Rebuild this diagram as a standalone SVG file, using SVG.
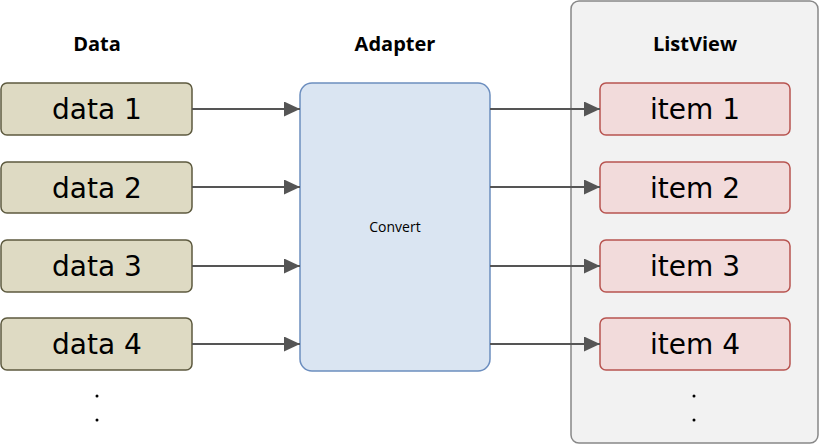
<svg xmlns="http://www.w3.org/2000/svg" width="820" height="445" viewBox="0 0 820 445">
<defs>
<marker id="ah" viewBox="0 0 10 10" refX="10" refY="5" markerWidth="16" markerHeight="15" markerUnits="userSpaceOnUse" orient="auto" preserveAspectRatio="none">
<path d="M0,0 L10,5 L0,10 Z" fill="#555555"/>
</marker>
<style>
.data{fill:#dedac3;stroke:#5d5a3f;stroke-width:1.5}
.item{fill:#f2dbdb;stroke:#b85450;stroke-width:1.5}
.lbl{font-family:"DejaVu Sans","Liberation Sans",sans-serif;font-size:28px;fill:#000;text-anchor:middle}
.title{font-family:"Open Sans","Liberation Sans",sans-serif;font-size:20px;font-weight:bold;fill:#000;text-anchor:middle}
.conn line{stroke:#555555;stroke-width:2.2;marker-end:url(#ah)}
.dot{fill:#000}
</style>
</defs>
<rect width="820" height="445" fill="#ffffff"/>
<g id="listview">
<rect x="571" y="1" width="247" height="442" rx="8" fill="#f2f2f2" stroke="#888888" stroke-width="1.5"/>
<text class="title" x="695" y="51">ListView</text>
<circle class="dot" cx="694" cy="396" r="1.5"/>
<circle class="dot" cx="694" cy="420" r="1.5"/>
</g>
<g id="data-title"><text class="title" x="97" y="51">Data</text></g>
<g id="adapter">
<text class="title" x="395" y="51">Adapter</text>
<rect x="300" y="83" width="190" height="288" rx="12" fill="#dae5f2" stroke="#6c8ebf" stroke-width="1.5"/>
<text x="395" y="232" font-family="Open Sans, Liberation Sans, sans-serif" font-size="14" text-anchor="middle">Convert</text>
</g>
<g id="data1"><rect class="data" x="1" y="83" width="191" height="52" rx="6"/><text class="lbl" x="97" y="119">data 1</text></g>
<g id="data2"><rect class="data" x="1" y="162" width="191" height="51" rx="6"/><text class="lbl" x="97" y="198">data 2</text></g>
<g id="data3"><rect class="data" x="1" y="240" width="191" height="52" rx="6"/><text class="lbl" x="97" y="276">data 3</text></g>
<g id="data4"><rect class="data" x="1" y="318" width="191" height="52" rx="6"/><text class="lbl" x="97" y="354">data 4</text></g>
<g id="data-dots"><circle class="dot" cx="97" cy="396" r="1.5"/><circle class="dot" cx="97" cy="420" r="1.5"/></g>
<g id="item1"><rect class="item" x="600" y="83" width="190" height="52" rx="6"/><text class="lbl" x="695" y="119">item 1</text></g>
<g id="item2"><rect class="item" x="600" y="162" width="190" height="51" rx="6"/><text class="lbl" x="695" y="198">item 2</text></g>
<g id="item3"><rect class="item" x="600" y="240" width="190" height="52" rx="6"/><text class="lbl" x="695" y="276">item 3</text></g>
<g id="item4"><rect class="item" x="600" y="318" width="190" height="52" rx="6"/><text class="lbl" x="695" y="354">item 4</text></g>
<g class="conn" id="connectors">
<line x1="192" y1="109" x2="300" y2="109"/>
<line x1="192" y1="187" x2="300" y2="187"/>
<line x1="192" y1="266" x2="300" y2="266"/>
<line x1="192" y1="344" x2="300" y2="344"/>
<line x1="490" y1="109" x2="600" y2="109"/>
<line x1="490" y1="187" x2="600" y2="187"/>
<line x1="490" y1="266" x2="600" y2="266"/>
<line x1="490" y1="344" x2="600" y2="344"/>
</g>
</svg>
